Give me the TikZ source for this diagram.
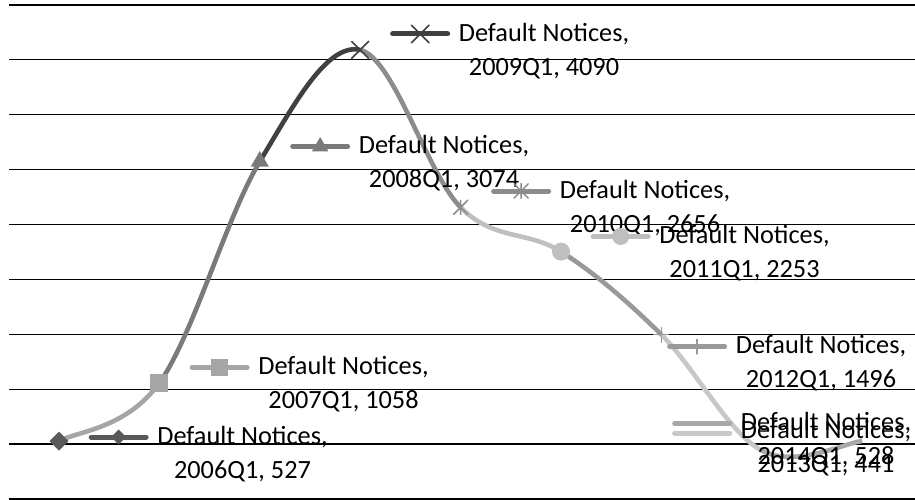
\documentclass[tikz,border=0pt]{standalone}
\usepackage{fontspec}
\setmainfont{Carlito}
\usepackage{tikz}
\usetikzlibrary{calc,shapes.geometric,shapes.misc}
\definecolor{cdia}{HTML}{595959}
\definecolor{csq}{HTML}{A5A5A5}
\definecolor{ctri}{HTML}{7A7A7A}
\definecolor{cx}{HTML}{404040}
\definecolor{cast}{HTML}{8C8C8C}
\definecolor{ccirc}{HTML}{BFBFBF}
\definecolor{cplus}{HTML}{999999}
\definecolor{cqa}{HTML}{C8C8C8}
\definecolor{cqb}{HTML}{A8A8A8}

\begin{document}
\begin{tikzpicture}[x=1pt, y=-1pt,
  grid/.style={line width=1.3pt, black},
  curve/.style={line width=4.6pt},
  keyline/.style={line width=5pt, line cap=round},
  lbl/.style={align=center, inner sep=0pt, font=\fontsize{26.3}{34}\selectfont},
  mdia/.style={diamond, fill=cdia, minimum size=19pt, inner sep=0pt},
  msq/.style={rectangle, fill=csq, minimum size=18pt, inner sep=0pt},
  mtri/.style={regular polygon, regular polygon sides=3, fill=ctri, minimum size=21pt, inner sep=0pt},
  mx/.style={cross out, draw=cx, line width=1.6pt, minimum size=16pt, inner sep=0pt},
  mast/.style={rectangle, minimum size=15pt, inner sep=0pt,
    path picture={\draw[cast, line width=1.5pt]
      (path picture bounding box.north west) -- (path picture bounding box.south east)
      (path picture bounding box.south west) -- (path picture bounding box.north east)
      (path picture bounding box.north) -- (path picture bounding box.south);}},
  mcirc/.style={circle, fill=ccirc, minimum size=18pt, inner sep=0pt},
  mplus/.style={rectangle, minimum size=16pt, inner sep=0pt,
    path picture={\draw[cplus, line width=1.5pt]
      (path picture bounding box.north) -- (path picture bounding box.south)
      (path picture bounding box.west) -- (path picture bounding box.east);}}
]
\useasboundingbox (0,0) rectangle (915,500);

% gridlines
\foreach \k in {0,...,9}
  \draw[grid] (9,{499-54.9*\k}) -- (915,{499-54.9*\k});

% data points, 2006Q1 .. 2014Q1
\foreach \v [count=\i from 0] in {527,1058,3074,4090,2656,2253,1496,441,528}
  \coordinate (p\i) at ({59+100.4*\i},{499-0.1098*\v});

% smoothed segments, each in the colour of the later point
\foreach \h/\a/\b/\t/\c in {0/0/1/2/csq, 0/1/2/3/ctri, 1/2/3/4/cx, 2/3/4/5/cast,
    3/4/5/6/ccirc, 4/5/6/7/cplus, 5/6/7/8/cqa, 6/7/8/8/cqb}
  \draw[curve, \c] (p\a) .. controls ($(p\a)+0.1667*(p\b)-0.1667*(p\h)$)
    and ($(p\b)-0.1667*(p\t)+0.1667*(p\a)$) .. (p\b);

% markers
\node[mdia] (m0) at (p0) {};
\node[msq] (m1) at (p1) {};
\node[mtri] (m2) at (p2) {};
\node[mx] (m3) at (p3) {};
\node[mast] (m4) at (p4) {};
\node[mcirc] (m5) at (p5) {};
\node[mplus] (m6) at (p6) {};

% data labels
\node[lbl] (l06) at (242.5,454) {Default Notices,\\2006Q1, 527};
\node[lbl] (l07) at (343.5,384.5) {Default Notices,\\2007Q1, 1058};
\node[lbl] (l08) at (444,163.5) {Default Notices,\\2008Q1, 3074};
\node[lbl] (l09) at (544,51) {Default Notices,\\2009Q1, 4090};
\node[lbl] (l10) at (645,208) {Default Notices,\\2010Q1, 2656};
\node[lbl] (l11) at (744.5,253.5) {Default Notices,\\2011Q1, 2253};
\node[lbl] (l12) at (821,363.5) {Default Notices,\\2012Q1, 1496};
\node[lbl] (l13) at (826,448) {Default Notices,\\2013Q1, 441};
\node[lbl] (l14) at (826,440.5) {Default Notices,\\2014Q1, 528};

% legend keys
\draw[keyline, cdia] ($(l06.west)+(-66,-17)$) -- node[mdia, minimum size=17pt]{} ($(l06.west)+(-11,-17)$);
\draw[keyline, csq] ($(l07.west)+(-66,-17)$) -- node[msq, minimum size=17pt]{} ($(l07.west)+(-11,-17)$);
\draw[keyline, ctri] ($(l08.west)+(-66,-17)$) -- node[mtri, minimum size=19pt]{} ($(l08.west)+(-11,-17)$);
\draw[keyline, cx] ($(l09.west)+(-66,-17)$) -- node[mx]{} ($(l09.west)+(-11,-17)$);
\draw[keyline, cast] ($(l10.west)+(-66,-17)$) -- node[mast]{} ($(l10.west)+(-11,-17)$);
\draw[keyline, ccirc] ($(l11.west)+(-66,-17)$) -- node[mcirc, minimum size=17pt]{} ($(l11.west)+(-11,-17)$);
\draw[keyline, cplus] ($(l12.west)+(-66,-17)$) -- node[mplus, minimum size=15pt]{} ($(l12.west)+(-11,-17)$);
\draw[keyline, cqa] ($(l13.west)+(-66,-15)$) -- ($(l13.west)+(-11,-15)$);
\draw[keyline, cqb] ($(l14.west)+(-66,-17)$) -- ($(l14.west)+(-11,-17)$);
\end{tikzpicture}
\end{document}
